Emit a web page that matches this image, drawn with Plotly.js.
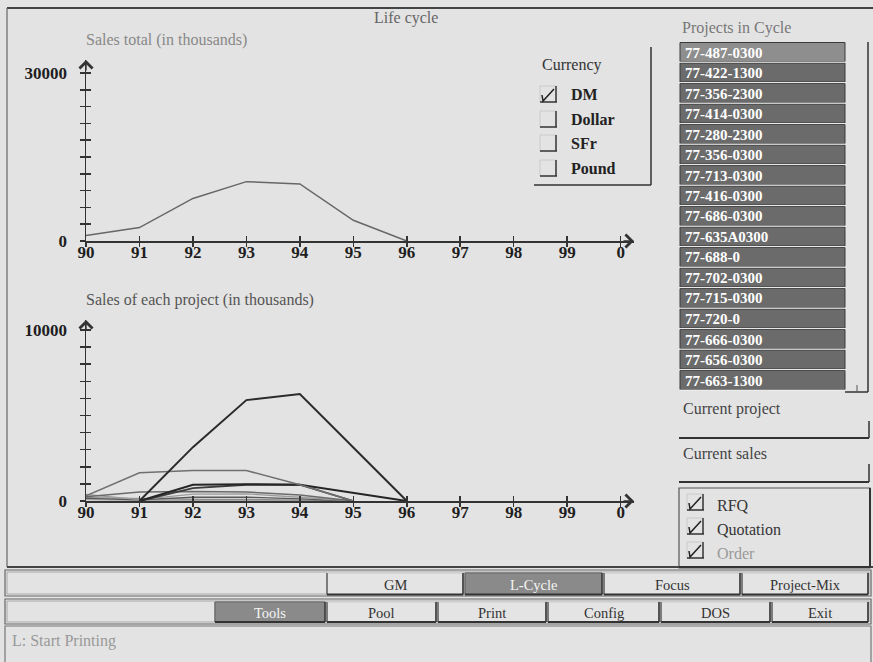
<!DOCTYPE html>
<html><head><meta charset="utf-8">
<script src="https://cdn.plot.ly/plotly-3.0.1.min.js"></script>
<style>html,body{margin:0;padding:0;background:#e3e3e3;}#chart{width:873px;height:662px;}</style>
</head><body><div id="chart"></div>
<script>
// ---------- data ----------
const years = [90, 91, 92, 93, 94, 95, 96];
const yearTicks = [90, 91, 92, 93, 94, 95, 96, 97, 98, 99, 100];
const yearTickLabels = ['90', '91', '92', '93', '94', '95', '96', '97', '98', '99', '0'];
const salesTotal = [1000, 2400, 7600, 10600, 10200, 3700, 0];
const totalTickMax = 30000, totalTickStep = 3000;
const projTickMax = 10000, projTickStep = 1000;

const projects = ['77-487-0300', '77-422-1300', '77-356-2300', '77-414-0300', '77-280-2300',
  '77-356-0300', '77-713-0300', '77-416-0300', '77-686-0300', '77-635A0300', '77-688-0',
  '77-702-0300', '77-715-0300', '77-720-0', '77-666-0300', '77-656-0300', '77-663-1300'];

const sales_77_487 = [null, 0, 3150, 5900, 6250, null, 0];
const sales_77_422 = [300, 1650, 1780, 1780, 950, 0, null];
const sales_77_356 = [null, 0, 950, 980, 950, null, 0];
const sales_77_414 = [null, 0, 750, 950, 950, 0, null];
const sales_77_280 = [250, 520, 560, 530, 350, 0, null];
const sales_77_3560 = [380, 80, 400, 420, 220, 0, null];
const sales_77_713 = [150, 60, 220, 230, 120, 0, null];
const sales_77_416 = [200, 150, 100, 100, 60, 0, null];
const sales_77_686 = [80, 30, 40, 40, 20, 0, null];

const currencies = ['DM', 'Dollar', 'SFr', 'Pound'];
const currencyChecked = [true, false, false, false];
const stages = ['RFQ', 'Quotation', 'Order'];
const menuRow1 = ['GM', 'L-Cycle', 'Focus', 'Project-Mix'];
const menuRow2 = ['Tools', 'Pool', 'Print', 'Config', 'DOS', 'Exit'];

// ---------- styling / layout helpers ----------
const SERIF = '"Liberation Serif", "Times New Roman", serif';
const W = 873, H = 662;
const px = x => x / W, py = y => 1 - y / H;
const shapes = [], ann = [];
function line(x0, y0, x1, y1, color, width) {
  shapes.push({type: 'line', xref: 'paper', yref: 'paper', x0: px(x0), y0: py(y0), x1: px(x1), y1: py(y1), line: {color: color, width: width}});
}
function rect(x0, y0, x1, y1, fill, color, width) {
  shapes.push({type: 'rect', xref: 'paper', yref: 'paper', layer: 'below', x0: px(x0), y0: py(y0), x1: px(x1), y1: py(y1),
    fillcolor: fill, line: {color: color || 'rgba(0,0,0,0)', width: width || 0}});
}
function path(pts, color, width) {
  const d = pts.map((p, i) => (i ? 'L' : 'M') + px(p[0]) + ',' + py(p[1])).join(' ');
  shapes.push({type: 'path', xref: 'paper', yref: 'paper', path: d, line: {color: color, width: width}});
}
function text(x, y, t, font, opt) {
  ann.push(Object.assign({xref: 'paper', yref: 'paper', x: px(x), y: py(y), text: t, showarrow: false,
    xanchor: 'left', yanchor: 'middle', font: Object.assign({family: SERIF, size: 16, color: '#333'}, font || {})}, opt || {}));
}
function checkbox(x, y, checked, color) {
  line(x, y, x, y + 16, '#cacaca', 1);
  line(x, y, x + 16, y, '#cacaca', 1);
  line(x, y + 16, x + 17, y + 16, '#333', 1.5);
  line(x + 16, y, x + 16, y + 16, '#333', 1.5);
  if (checked) path([[x + 2, y + 9], [x + 3, y + 15], [x + 14, y + 3]], color || '#222', 1.5);
}
function button(x0, y0, x1, y1, label, active) {
  rect(x0, y0, x1, y1, active ? '#8a8a8a' : '#e4e4e4', '#8a8a8a', 1);
  line(x0, y0, x1, y0, active ? '#666' : '#f6f6f6', 1);
  line(x0, y0, x0, y1, active ? '#666' : '#555', 1.2);
  line(x0, y1, x1, y1, '#333', 2);
  line(x1, y0, x1, y1, '#333', 1.5);
  text((x0 + x1) / 2, (y0 + y1) / 2 + 1, label, {size: 14.5, color: active ? '#f5f5f5' : '#333'}, {xanchor: 'center'});
}

// ---------- GUI frame ----------
line(7, 8, 873, 8, '#444', 2);
line(7, 8, 7, 567, '#666', 1.2);
line(7, 567, 873, 567, '#444', 2.2);

// titles
text(406, 18, 'Life cycle', {size: 16, color: '#666'}, {xanchor: 'center'});
text(84, 40, 'Sales total (in thousands)', {size: 16, color: '#888'});
text(84, 300, 'Sales of each project (in thousands)', {size: 16, color: '#555'});

// currency box
line(651, 47, 651, 185, '#333', 1.5);
line(534, 185, 651, 185, '#333', 1.5);
text(540, 65, 'Currency', {size: 16, color: '#333'});
const currencyRowY = [86, 111, 135, 160];
currencies.forEach((c, i) => {
  checkbox(540, currencyRowY[i], currencyChecked[i]);
  text(569, currencyRowY[i] + 8, c, {size: 16, color: '#222', weight: 'bold'});
});

// projects list
text(680, 28, 'Projects in Cycle', {size: 16, color: '#777'});
projects.forEach((p, i) => {
  const y0 = 42.5 + i * 20.5;
  rect(680, y0, 845, y0 + 19, i === 0 ? '#8e8e8e' : '#6b6b6b', '#3a3a3a', 1);
  line(680, y0 + 19.6, 845, y0 + 19.6, '#f2f2f2', 1);
  text(683, y0 + 10, p, {size: 15, color: '#ffffff', weight: 'bold'});
});
line(868, 42, 868, 392, '#333', 1.5);
line(845, 392, 868, 392, '#333', 1.5);
line(857, 385, 857, 392, '#555', 1);

// current project / sales
text(681, 409, 'Current project', {size: 16, color: '#444'});
line(679, 438, 869, 438, '#333', 2);
line(869, 421, 869, 438, '#333', 1.5);
text(681, 453, 'Current sales', {size: 16, color: '#444'});
line(679, 482, 869, 482, '#333', 2);
line(869, 464, 869, 482, '#333', 1.5);

// stage panel
rect(679, 488, 870, 568, 'rgba(0,0,0,0)', '#555', 1.2);
line(679, 567, 870, 567, '#333', 2);
line(870, 488, 870, 567, '#333', 2);
const stageRowY = [494, 518, 542];
stages.forEach((s, i) => {
  checkbox(687, stageRowY[i], true);
  text(715, stageRowY[i] + 11, s, {size: 16, color: i === 2 ? '#999' : '#333'});
});

// menu rows
rect(5, 570, 871, 596, 'rgba(0,0,0,0)', '#666', 1.2);
rect(7, 572, 869, 594, 'rgba(0,0,0,0)', '#999', 0.8);
const row1X = [327, 465, 604, 742, 870];
menuRow1.forEach((m, i) => button(row1X[i], 573, row1X[i + 1] - 2, 594.5, m, m === 'L-Cycle'));
rect(5, 599, 871, 624, 'rgba(0,0,0,0)', '#666', 1.2);
rect(7, 601, 869, 622, 'rgba(0,0,0,0)', '#999', 0.8);
const row2X = [215, 327, 438, 548, 661, 772, 870];
menuRow2.forEach((m, i) => button(row2X[i], 602, row2X[i + 1] - 2, 622, m, m === 'Tools'));
rect(5, 626, 871, 670, 'rgba(0,0,0,0)', '#777', 1.2);
text(10, 641, 'L: Start Printing', {size: 16, color: '#999'});

// ---------- traces ----------
const projectSeries = [sales_77_487, sales_77_422, sales_77_356, sales_77_414, sales_77_280,
  sales_77_3560, sales_77_713, sales_77_416, sales_77_686];
const projectColors = ['#2a2a2a', '#707070', '#262626', '#3c3c3c', '#6a6a6a', '#9c9c9c', '#585858', '#8c8c8c', '#a8a8a8'];
const projectWidths = [2, 1.5, 2, 1.8, 1.5, 1.3, 1.3, 1.2, 1.2];

const traces = [{
  x: years, y: salesTotal, type: 'scatter', mode: 'lines', xaxis: 'x', yaxis: 'y',
  line: {color: '#676767', width: 1.5}, hoverinfo: 'skip'
}];
projectSeries.slice().reverse().forEach((s, k) => {
  const i = projectSeries.length - 1 - k;
  traces.push({x: years, y: s, type: 'scatter', mode: 'lines', xaxis: 'x2', yaxis: 'y2', connectgaps: true,
    name: projects[i], line: {color: projectColors[i], width: projectWidths[i]}, hoverinfo: 'skip'});
});
// invisible anchors so the tick-only overlay axes get drawn
[['x3', 'y'], ['x', 'y3'], ['x4', 'y2'], ['x2', 'y4']].forEach(([xa, ya]) => {
  traces.push({x: [90], y: [0], type: 'scatter', mode: 'markers', xaxis: xa, yaxis: ya,
    marker: {opacity: 0, size: 1}, hoverinfo: 'skip'});
});

// ---------- axes ----------
const tickFont = {family: SERIF, size: 17, color: '#1e1e1e', weight: 'bold'};
const xDomain = [px(86), px(634)];
const xRange = [90, 100.25];
function vals(max, step) { const v = []; for (let t = 0; t <= max; t += step) v.push(t); return v; }
function labs(max, step) { return vals(max, step).map(t => (t === 0 || t === max) ? String(t) : ''); }
const tickStyle = {showgrid: false, zeroline: false, fixedrange: true, ticklen: 5, tickwidth: 1.5, tickcolor: '#333', tickmode: 'array'};
function xAxis(anchor, overlay) {
  const a = Object.assign({range: xRange, anchor: anchor, tickvals: yearTicks, ticktext: yearTickLabels}, tickStyle);
  if (overlay) Object.assign(a, {overlaying: overlay, ticks: 'outside', showticklabels: false, showline: false});
  else Object.assign(a, {domain: xDomain, ticks: 'inside', showline: true, linecolor: '#333', linewidth: 1.5,
    tickfont: tickFont, ticklabelstandoff: -5});
  return a;
}
function yAxis(anchor, domain, range, max, step, overlay) {
  const a = Object.assign({range: range, anchor: anchor, tickvals: vals(max, step), ticktext: labs(max, step)}, tickStyle);
  if (overlay) Object.assign(a, {overlaying: overlay, ticks: 'outside', showticklabels: false, showline: false});
  else Object.assign(a, {domain: domain, ticks: 'inside', showline: true, linecolor: '#333', linewidth: 1.5,
    tickfont: tickFont, ticklabelstandoff: 14});
  return a;
}
const topDomain = [py(241), py(60)];
const botDomain = [py(501), py(320)];
const topRange = [0, totalTickMax * (241 - 60) / (241 - 73)];
const botRange = [0, projTickMax * (501 - 320) / (501 - 330)];

// axis arrowheads
[['x', 'y', topRange], ['x2', 'y2', botRange]].forEach(([xa, ya, r]) => {
  ann.push({xref: xa, yref: ya, x: 90, y: r[1], ax: 0, ay: 12, showarrow: true, arrowhead: 4, arrowsize: 1.8,
    arrowwidth: 1.4, arrowcolor: '#333', text: ''});
  ann.push({xref: xa, yref: ya, x: xRange[1], y: 0, ax: -12, ay: 0, showarrow: true, arrowhead: 4, arrowsize: 1.8,
    arrowwidth: 1.4, arrowcolor: '#333', text: ''});
});

const layout = {
  width: W, height: H, margin: {l: 0, r: 0, t: 0, b: 0},
  paper_bgcolor: '#e3e3e3', plot_bgcolor: 'rgba(0,0,0,0)',
  showlegend: false, hovermode: false,
  xaxis: xAxis('y'), yaxis: yAxis('x', topDomain, topRange, totalTickMax, totalTickStep),
  xaxis2: xAxis('y2'), yaxis2: yAxis('x2', botDomain, botRange, projTickMax, projTickStep),
  xaxis3: xAxis('y', 'x'), yaxis3: yAxis('x', topDomain, topRange, totalTickMax, totalTickStep, 'y'),
  xaxis4: xAxis('y2', 'x2'), yaxis4: yAxis('x2', botDomain, botRange, projTickMax, projTickStep, 'y2'),
  shapes: shapes, annotations: ann
};
Plotly.newPlot('chart', traces, layout, {staticPlot: true, displayModeBar: false});
</script></body></html>
